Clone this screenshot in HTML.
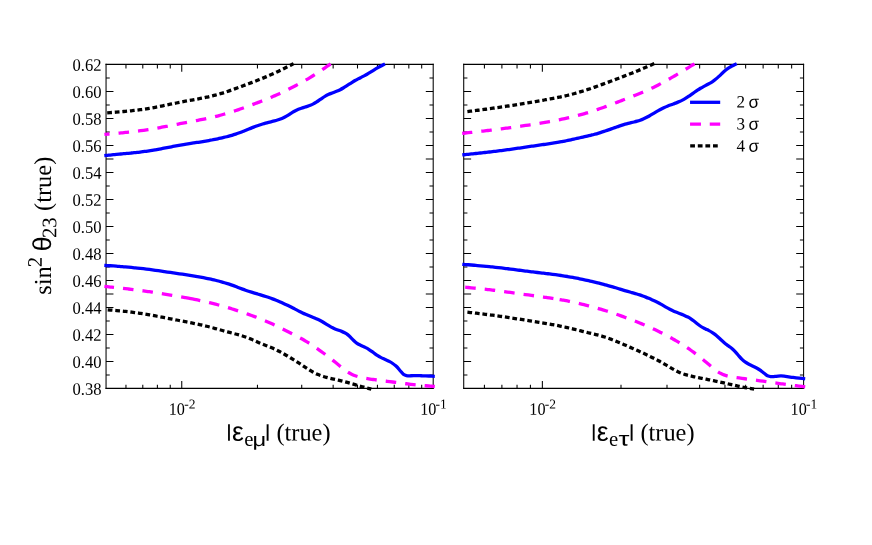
<!DOCTYPE html>
<html><head><meta charset="utf-8"><title>chart</title>
<style>html,body{margin:0;padding:0;background:#fff;}svg{display:block;will-change:transform;}text{font-family:"Liberation Serif", serif;fill:#000;text-rendering:geometricPrecision;}.g{font-family:"Liberation Sans", sans-serif;}</style>
</head><body>
<svg width="872" height="545" viewBox="0 0 872 545">
<rect x="0" y="0" width="872" height="545" fill="#ffffff"/>
<g stroke="#000" stroke-width="1.05" fill="none" stroke-linecap="butt">
<path d="M106.05 63.85V389.02M433.2 63.85V389.02"/>
<path stroke-width="1.25" d="M105.55 64.45H433.7M105.55 388.42H433.7"/>
<path d="M106.05 374.92h3.7M433.2 374.92h-3.7M106.05 361.42h7.4M433.2 361.42h-7.4M106.05 347.92h3.7M433.2 347.92h-3.7M106.05 334.43h7.4M433.2 334.43h-7.4M106.05 320.93h3.7M433.2 320.93h-3.7M106.05 307.43h7.4M433.2 307.43h-7.4M106.05 293.93h7.4M433.2 293.93h-7.4M106.05 280.43h7.4M433.2 280.43h-7.4M106.05 266.93h3.7M433.2 266.93h-3.7M106.05 253.43h7.4M433.2 253.43h-7.4M106.05 239.93h3.7M433.2 239.93h-3.7M106.05 226.44h7.4M433.2 226.44h-7.4M106.05 212.94h3.7M433.2 212.94h-3.7M106.05 199.44h7.4M433.2 199.44h-7.4M106.05 185.94h3.7M433.2 185.94h-3.7M106.05 172.44h7.4M433.2 172.44h-7.4M106.05 158.94h7.4M433.2 158.94h-7.4M106.05 145.44h7.4M433.2 145.44h-7.4M106.05 131.94h3.7M433.2 131.94h-3.7M106.05 118.44h7.4M433.2 118.44h-7.4M106.05 104.95h3.7M433.2 104.95h-3.7M106.05 91.45h7.4M433.2 91.45h-7.4M106.05 77.95h3.7M433.2 77.95h-3.7M125.96 388.42v-3.7M125.96 64.45v4.05M142.79 388.42v-3.7M142.79 64.45v4.05M157.38 388.42v-3.7M157.38 64.45v4.05M170.24 388.42v-3.7M170.24 64.45v4.05M181.75 388.42v-7.4M181.75 64.45v7.4M257.44 388.42v-3.7M257.44 64.45v4.05M301.72 388.42v-3.7M301.72 64.45v4.05M333.14 388.42v-3.7M333.14 64.45v4.05M357.5 388.42v-3.7M357.5 64.45v4.05M377.42 388.42v-3.7M377.42 64.45v4.05M394.25 388.42v-3.7M394.25 64.45v4.05M408.83 388.42v-3.7M408.83 64.45v4.05M421.69 388.42v-3.7M421.69 64.45v4.05"/>
</g>
<g stroke="#000" stroke-width="1.05" fill="none" stroke-linecap="butt">
<path d="M463.72 63.85V389.02M803.6 63.85V389.02"/>
<path stroke-width="1.25" d="M463.22 64.45H804.1M463.22 388.42H804.1"/>
<path d="M463.72 374.92h3.7M803.6 374.92h-3.7M463.72 361.42h7.4M803.6 361.42h-7.4M463.72 347.92h3.7M803.6 347.92h-3.7M463.72 334.43h7.4M803.6 334.43h-7.4M463.72 320.93h3.7M803.6 320.93h-3.7M463.72 307.43h7.4M803.6 307.43h-7.4M463.72 293.93h7.4M803.6 293.93h-7.4M463.72 280.43h7.4M803.6 280.43h-7.4M463.72 266.93h3.7M803.6 266.93h-3.7M463.72 253.43h7.4M803.6 253.43h-7.4M463.72 239.93h3.7M803.6 239.93h-3.7M463.72 226.44h7.4M803.6 226.44h-7.4M463.72 212.94h3.7M803.6 212.94h-3.7M463.72 199.44h7.4M803.6 199.44h-7.4M463.72 185.94h3.7M803.6 185.94h-3.7M463.72 172.44h7.4M803.6 172.44h-7.4M463.72 158.94h7.4M803.6 158.94h-7.4M463.72 145.44h7.4M803.6 145.44h-7.4M463.72 131.94h3.7M803.6 131.94h-3.7M463.72 118.44h7.4M803.6 118.44h-7.4M463.72 104.95h3.7M803.6 104.95h-3.7M463.72 91.45h7.4M803.6 91.45h-7.4M463.72 77.95h3.7M803.6 77.95h-3.7M484.41 388.42v-3.7M484.41 64.45v4.05M501.89 388.42v-3.7M501.89 64.45v4.05M517.04 388.42v-3.7M517.04 64.45v4.05M530.41 388.42v-3.7M530.41 64.45v4.05M542.36 388.42v-7.4M542.36 64.45v7.4M621 388.42v-3.7M621 64.45v4.05M667 388.42v-3.7M667 64.45v4.05M699.64 388.42v-3.7M699.64 64.45v4.05M724.96 388.42v-3.7M724.96 64.45v4.05M745.64 388.42v-3.7M745.64 64.45v4.05M763.13 388.42v-3.7M763.13 64.45v4.05M778.28 388.42v-3.7M778.28 64.45v4.05M791.65 388.42v-3.7M791.65 64.45v4.05"/>
</g>
<path d="M104.3 155.6C105.3 155.5 106.29 155.41 107.29 155.31C108.28 155.21 109.28 155.12 110.27 155.02C111.27 154.92 112.26 154.83 113.26 154.73C114.25 154.64 115.25 154.54 116.24 154.44C117.24 154.35 118.24 154.25 119.23 154.15C120.23 154.06 121.22 153.96 122.22 153.87C123.21 153.77 124.21 153.68 125.2 153.58C126.2 153.49 127.19 153.39 128.19 153.3C129.18 153.2 130.18 153.1 131.18 153.01C132.17 152.91 133.17 152.81 134.16 152.7C135.16 152.6 136.15 152.49 137.15 152.38C138.14 152.28 139.14 152.16 140.13 152.04C141.13 151.93 142.12 151.8 143.12 151.67C144.12 151.54 145.11 151.41 146.11 151.27C147.1 151.13 148.1 150.98 149.09 150.82C150.09 150.67 151.08 150.51 152.08 150.35C153.07 150.18 154.07 150.01 155.06 149.84C156.06 149.67 157.06 149.49 158.05 149.31C159.05 149.13 160.04 148.95 161.04 148.76C162.03 148.58 163.03 148.39 164.02 148.2C165.02 148.01 166.01 147.82 167.01 147.63C168 147.44 169 147.25 170 147.06C170.99 146.87 171.99 146.68 172.98 146.49C173.98 146.3 174.97 146.12 175.97 145.93C176.96 145.75 177.96 145.57 178.95 145.39C179.95 145.21 180.95 145.03 181.94 144.86C182.94 144.69 183.93 144.52 184.93 144.36C185.92 144.19 186.92 144.03 187.91 143.87C188.91 143.71 189.9 143.56 190.9 143.4C191.89 143.25 192.89 143.09 193.89 142.94C194.88 142.78 195.88 142.63 196.87 142.47C197.87 142.32 198.86 142.17 199.86 142.01C200.85 141.85 201.85 141.69 202.84 141.53C203.84 141.37 204.83 141.21 205.83 141.04C206.83 140.88 207.82 140.71 208.82 140.53C209.81 140.36 210.81 140.18 211.8 140C212.8 139.81 213.79 139.62 214.79 139.43C215.78 139.23 216.78 139.03 217.77 138.82C218.77 138.62 219.77 138.4 220.76 138.18C221.76 137.95 222.75 137.72 223.75 137.48C224.74 137.24 225.74 136.99 226.73 136.73C227.73 136.47 228.72 136.2 229.72 135.92C230.71 135.64 231.71 135.35 232.71 135.05C233.7 134.74 234.7 134.43 235.69 134.1C236.69 133.77 237.68 133.43 238.68 133.07C239.67 132.72 240.67 132.35 241.66 131.96C242.66 131.58 243.65 131.18 244.65 130.78C245.65 130.38 246.64 129.98 247.64 129.57C248.63 129.16 249.63 128.75 250.62 128.35C251.62 127.94 252.61 127.54 253.61 127.15C254.6 126.76 255.6 126.38 256.59 126.02C257.59 125.66 258.59 125.31 259.58 124.98C260.58 124.65 261.57 124.33 262.57 124.04C263.56 123.74 264.56 123.45 265.55 123.18C266.55 122.9 267.54 122.64 268.54 122.38C269.53 122.13 270.53 121.88 271.53 121.64C272.52 121.39 273.52 121.14 274.51 120.88C275.51 120.62 276.5 120.34 277.5 120.03C278.49 119.73 279.49 119.39 280.48 119.01C281.48 118.64 282.47 118.22 283.47 117.75C284.47 117.28 285.46 116.75 286.46 116.17C287.45 115.59 288.45 114.95 289.44 114.3C290.44 113.65 291.43 113 292.43 112.4C293.42 111.79 294.42 111.23 295.41 110.73C296.41 110.22 297.41 109.76 298.4 109.35C299.4 108.94 300.39 108.57 301.39 108.23C302.38 107.89 303.38 107.58 304.37 107.27C305.37 106.95 306.36 106.64 307.36 106.31C308.35 105.98 309.35 105.62 310.35 105.22C311.34 104.82 312.34 104.37 313.33 103.85C314.33 103.33 315.32 102.76 316.32 102.13C317.31 101.5 318.31 100.81 319.3 100.11C320.3 99.4 321.3 98.68 322.29 98.01C323.29 97.33 324.28 96.69 325.28 96.12C326.27 95.56 327.27 95.06 328.26 94.61C329.26 94.16 330.25 93.75 331.25 93.37C332.24 92.98 333.24 92.62 334.24 92.25C335.23 91.88 336.23 91.5 337.22 91.08C338.22 90.66 339.21 90.19 340.21 89.67C341.2 89.15 342.2 88.58 343.19 87.98C344.19 87.38 345.18 86.75 346.18 86.11C347.18 85.48 348.17 84.84 349.17 84.21C350.16 83.57 351.16 82.94 352.15 82.33C353.15 81.72 354.14 81.12 355.14 80.54C356.13 79.96 357.13 79.42 358.12 78.89C359.12 78.37 360.12 77.87 361.11 77.37C362.11 76.88 363.1 76.38 364.1 75.87C365.09 75.36 366.09 74.83 367.08 74.27C368.08 73.7 369.07 73.09 370.07 72.47C371.06 71.84 372.06 71.2 373.06 70.57C374.05 69.93 375.05 69.3 376.04 68.7C377.04 68.1 378.03 67.54 379.03 66.99C380.02 66.45 381.02 65.92 382.01 65.41C383.01 64.9 384 64.4 385 63.9" fill="none" stroke="#0000ff" stroke-width="3.3" stroke-linejoin="round"/>
<path d="M104.4 134.41C105.41 134.32 106.41 134.23 107.42 134.15C108.42 134.06 109.43 133.97 110.43 133.89C111.44 133.8 112.45 133.71 113.45 133.62C114.46 133.53 115.46 133.44 116.47 133.35C117.48 133.26 118.48 133.16 119.49 133.07C120.49 132.98 121.5 132.88 122.5 132.78C123.51 132.68 124.52 132.58 125.52 132.48C126.53 132.37 127.53 132.27 128.54 132.16C129.54 132.05 130.55 131.94 131.56 131.83C132.56 131.71 133.57 131.59 134.57 131.47C135.58 131.35 136.58 131.23 137.59 131.1C138.6 130.97 139.6 130.84 140.61 130.7C141.61 130.56 142.62 130.42 143.63 130.28C144.63 130.13 145.64 129.98 146.64 129.83C147.65 129.67 148.65 129.52 149.66 129.35C150.67 129.19 151.67 129.02 152.68 128.85C153.68 128.68 154.69 128.5 155.69 128.33C156.7 128.15 157.71 127.97 158.71 127.78C159.72 127.6 160.72 127.41 161.73 127.23C162.74 127.04 163.74 126.85 164.75 126.66C165.75 126.47 166.76 126.27 167.76 126.08C168.77 125.88 169.78 125.69 170.78 125.49C171.79 125.3 172.79 125.1 173.8 124.91C174.8 124.71 175.81 124.52 176.82 124.32C177.82 124.13 178.83 123.93 179.83 123.74C180.84 123.55 181.84 123.35 182.85 123.16C183.86 122.97 184.86 122.79 185.87 122.6C186.87 122.41 187.88 122.22 188.89 122.03C189.89 121.84 190.9 121.65 191.9 121.47C192.91 121.28 193.91 121.09 194.92 120.89C195.93 120.7 196.93 120.51 197.94 120.31C198.94 120.12 199.95 119.92 200.95 119.71C201.96 119.51 202.97 119.31 203.97 119.1C204.98 118.89 205.98 118.68 206.99 118.46C208 118.24 209 118.02 210.01 117.79C211.01 117.57 212.02 117.33 213.02 117.09C214.03 116.86 215.04 116.61 216.04 116.36C217.05 116.11 218.05 115.85 219.06 115.58C220.06 115.32 221.07 115.04 222.08 114.76C223.08 114.48 224.09 114.19 225.09 113.9C226.1 113.61 227.1 113.3 228.11 113C229.12 112.69 230.12 112.38 231.13 112.06C232.13 111.74 233.14 111.41 234.15 111.08C235.15 110.75 236.16 110.42 237.16 110.08C238.17 109.74 239.17 109.39 240.18 109.05C241.19 108.7 242.19 108.34 243.2 107.99C244.2 107.63 245.21 107.27 246.21 106.91C247.22 106.54 248.23 106.18 249.23 105.81C250.24 105.44 251.24 105.06 252.25 104.69C253.26 104.31 254.26 103.93 255.27 103.55C256.27 103.17 257.28 102.79 258.28 102.4C259.29 102.02 260.3 101.63 261.3 101.24C262.31 100.85 263.31 100.46 264.32 100.06C265.32 99.66 266.33 99.26 267.34 98.85C268.34 98.45 269.35 98.03 270.35 97.62C271.36 97.2 272.36 96.77 273.37 96.34C274.38 95.91 275.38 95.47 276.39 95.03C277.39 94.58 278.4 94.12 279.41 93.66C280.41 93.2 281.42 92.72 282.42 92.24C283.43 91.77 284.43 91.28 285.44 90.79C286.45 90.29 287.45 89.8 288.46 89.29C289.46 88.78 290.47 88.27 291.47 87.76C292.48 87.24 293.49 86.72 294.49 86.19C295.5 85.67 296.5 85.14 297.51 84.6C298.52 84.06 299.52 83.52 300.53 82.97C301.53 82.42 302.54 81.87 303.54 81.3C304.55 80.74 305.56 80.17 306.56 79.59C307.57 79.01 308.57 78.42 309.58 77.81C310.58 77.21 311.59 76.6 312.6 75.98C313.6 75.35 314.61 74.72 315.61 74.07C316.62 73.42 317.62 72.77 318.63 72.1C319.64 71.44 320.64 70.76 321.65 70.08C322.65 69.4 323.66 68.71 324.67 68.02C325.67 67.33 326.68 66.63 327.68 65.93C328.69 65.24 329.69 64.54 330.7 63.83" fill="none" stroke="#ff00ff" stroke-width="3.3" stroke-dasharray="10.55 9.05" stroke-dashoffset="5.4" stroke-linejoin="round"/>
<path d="M107.2 112.81C108.2 112.74 109.2 112.66 110.21 112.59C111.21 112.52 112.21 112.44 113.21 112.37C114.22 112.29 115.22 112.22 116.22 112.14C117.22 112.06 118.22 111.98 119.23 111.9C120.23 111.82 121.23 111.74 122.23 111.65C123.23 111.57 124.24 111.48 125.24 111.39C126.24 111.3 127.24 111.2 128.25 111.1C129.25 111.01 130.25 110.91 131.25 110.8C132.25 110.69 133.26 110.59 134.26 110.47C135.26 110.36 136.26 110.24 137.26 110.11C138.27 109.99 139.27 109.86 140.27 109.73C141.27 109.59 142.28 109.45 143.28 109.31C144.28 109.16 145.28 109.01 146.28 108.85C147.29 108.69 148.29 108.53 149.29 108.35C150.29 108.18 151.29 108.01 152.3 107.83C153.3 107.64 154.3 107.46 155.3 107.27C156.31 107.08 157.31 106.89 158.31 106.69C159.31 106.49 160.31 106.29 161.32 106.09C162.32 105.89 163.32 105.68 164.32 105.48C165.32 105.27 166.33 105.06 167.33 104.86C168.33 104.65 169.33 104.44 170.34 104.23C171.34 104.02 172.34 103.82 173.34 103.61C174.34 103.4 175.35 103.2 176.35 103C177.35 102.79 178.35 102.59 179.35 102.39C180.36 102.19 181.36 102 182.36 101.81C183.36 101.61 184.37 101.43 185.37 101.24C186.37 101.05 187.37 100.87 188.37 100.68C189.38 100.5 190.38 100.32 191.38 100.14C192.38 99.95 193.38 99.77 194.39 99.58C195.39 99.4 196.39 99.21 197.39 99.02C198.4 98.83 199.4 98.64 200.4 98.45C201.4 98.25 202.4 98.05 203.41 97.85C204.41 97.65 205.41 97.44 206.41 97.22C207.42 97.01 208.42 96.78 209.42 96.55C210.42 96.33 211.42 96.09 212.43 95.84C213.43 95.6 214.43 95.35 215.43 95.08C216.43 94.82 217.44 94.55 218.44 94.26C219.44 93.98 220.44 93.69 221.45 93.38C222.45 93.08 223.45 92.76 224.45 92.44C225.45 92.11 226.46 91.78 227.46 91.44C228.46 91.1 229.46 90.76 230.46 90.4C231.47 90.05 232.47 89.7 233.47 89.33C234.47 88.97 235.48 88.61 236.48 88.24C237.48 87.88 238.48 87.51 239.48 87.14C240.49 86.77 241.49 86.4 242.49 86.02C243.49 85.65 244.49 85.28 245.5 84.91C246.5 84.53 247.5 84.16 248.5 83.78C249.51 83.4 250.51 83.02 251.51 82.64C252.51 82.26 253.51 81.87 254.52 81.48C255.52 81.09 256.52 80.7 257.52 80.31C258.52 79.91 259.53 79.51 260.53 79.1C261.53 78.7 262.53 78.29 263.54 77.87C264.54 77.46 265.54 77.04 266.54 76.61C267.54 76.19 268.55 75.75 269.55 75.32C270.55 74.88 271.55 74.43 272.55 73.98C273.56 73.53 274.56 73.07 275.56 72.6C276.56 72.14 277.57 71.66 278.57 71.18C279.57 70.7 280.57 70.21 281.57 69.72C282.58 69.23 283.58 68.73 284.58 68.22C285.58 67.72 286.58 67.21 287.59 66.7C288.59 66.19 289.59 65.68 290.59 65.17C291.6 64.65 292.6 64.14 293.6 63.62" fill="none" stroke="#000000" stroke-width="3.3" stroke-dasharray="4.75 2.85" stroke-linejoin="round"/>
<path d="M104.3 265.4C105.3 265.46 106.3 265.51 107.3 265.57C108.31 265.64 109.31 265.7 110.31 265.76C111.31 265.83 112.31 265.9 113.31 265.97C114.32 266.04 115.32 266.12 116.32 266.19C117.32 266.27 118.32 266.34 119.32 266.42C120.32 266.5 121.33 266.59 122.33 266.67C123.33 266.76 124.33 266.84 125.33 266.93C126.33 267.02 127.33 267.11 128.34 267.2C129.34 267.29 130.34 267.38 131.34 267.48C132.34 267.57 133.34 267.67 134.35 267.77C135.35 267.87 136.35 267.96 137.35 268.07C138.35 268.17 139.35 268.27 140.35 268.38C141.36 268.49 142.36 268.61 143.36 268.72C144.36 268.84 145.36 268.96 146.36 269.09C147.37 269.21 148.37 269.34 149.37 269.47C150.37 269.6 151.37 269.73 152.37 269.86C153.37 270 154.38 270.13 155.38 270.27C156.38 270.41 157.38 270.55 158.38 270.7C159.38 270.84 160.38 270.98 161.39 271.13C162.39 271.27 163.39 271.42 164.39 271.57C165.39 271.71 166.39 271.86 167.4 272.01C168.4 272.16 169.4 272.31 170.4 272.46C171.4 272.6 172.4 272.75 173.4 272.9C174.41 273.05 175.41 273.2 176.41 273.34C177.41 273.49 178.41 273.64 179.41 273.79C180.42 273.93 181.42 274.08 182.42 274.23C183.42 274.38 184.42 274.53 185.42 274.68C186.42 274.83 187.43 274.99 188.43 275.14C189.43 275.3 190.43 275.45 191.43 275.61C192.43 275.77 193.43 275.93 194.44 276.1C195.44 276.26 196.44 276.43 197.44 276.6C198.44 276.77 199.44 276.95 200.45 277.13C201.45 277.31 202.45 277.49 203.45 277.68C204.45 277.87 205.45 278.06 206.45 278.26C207.46 278.45 208.46 278.66 209.46 278.87C210.46 279.07 211.46 279.29 212.46 279.52C213.47 279.75 214.47 279.99 215.47 280.24C216.47 280.49 217.47 280.74 218.47 281.01C219.47 281.28 220.48 281.56 221.48 281.84C222.48 282.12 223.48 282.41 224.48 282.71C225.48 283.01 226.48 283.31 227.49 283.62C228.49 283.93 229.49 284.24 230.49 284.58C231.49 284.93 232.49 285.29 233.5 285.66C234.5 286.04 235.5 286.43 236.5 286.82C237.5 287.21 238.5 287.61 239.5 288C240.51 288.39 241.51 288.78 242.51 289.16C243.51 289.54 244.51 289.91 245.51 290.26C246.52 290.61 247.52 290.94 248.52 291.26C249.52 291.57 250.52 291.88 251.52 292.18C252.52 292.48 253.53 292.77 254.53 293.07C255.53 293.36 256.53 293.66 257.53 293.96C258.53 294.26 259.53 294.58 260.54 294.89C261.54 295.21 262.54 295.52 263.54 295.84C264.54 296.15 265.54 296.47 266.55 296.79C267.55 297.12 268.55 297.45 269.55 297.8C270.55 298.14 271.55 298.5 272.55 298.88C273.56 299.26 274.56 299.65 275.56 300.05C276.56 300.45 277.56 300.87 278.56 301.29C279.57 301.72 280.57 302.15 281.57 302.6C282.57 303.04 283.57 303.49 284.57 303.94C285.57 304.4 286.58 304.85 287.58 305.32C288.58 305.79 289.58 306.28 290.58 306.79C291.58 307.29 292.58 307.81 293.59 308.33C294.59 308.85 295.59 309.38 296.59 309.9C297.59 310.42 298.59 310.94 299.6 311.44C300.6 311.94 301.6 312.43 302.6 312.89C303.6 313.36 304.6 313.8 305.6 314.23C306.61 314.66 307.61 315.08 308.61 315.49C309.61 315.9 310.61 316.31 311.61 316.72C312.62 317.13 313.62 317.54 314.62 317.97C315.62 318.4 316.62 318.84 317.62 319.31C318.62 319.77 319.63 320.25 320.63 320.77C321.63 321.3 322.63 321.88 323.63 322.48C324.63 323.09 325.63 323.71 326.64 324.34C327.64 324.96 328.64 325.58 329.64 326.17C330.64 326.76 331.64 327.32 332.65 327.82C333.65 328.33 334.65 328.76 335.65 329.16C336.65 329.55 337.65 329.92 338.65 330.28C339.66 330.64 340.66 331 341.66 331.39C342.66 331.79 343.66 332.22 344.66 332.73C345.67 333.23 346.67 333.79 347.67 334.59C348.67 335.39 349.67 336.37 350.67 337.4C351.67 338.43 352.68 339.5 353.68 340.49C354.68 341.48 355.68 342.39 356.68 343.09C357.68 343.78 358.68 344.32 359.69 344.83C360.69 345.34 361.69 345.8 362.69 346.24C363.69 346.69 364.69 347.14 365.7 347.63C366.7 348.12 367.7 348.66 368.7 349.28C369.7 349.91 370.7 350.61 371.7 351.34C372.71 352.07 373.71 352.83 374.71 353.57C375.71 354.3 376.71 355.02 377.71 355.67C378.72 356.32 379.72 356.88 380.72 357.4C381.72 357.91 382.72 358.38 383.72 358.83C384.72 359.29 385.73 359.73 386.73 360.19C387.73 360.65 388.73 361.13 389.73 361.67C390.73 362.21 391.73 362.8 392.74 363.49C393.74 364.18 394.74 364.97 395.74 365.85C396.74 366.73 397.74 367.72 398.75 368.95C399.75 370.19 400.75 371.4 401.75 372.46C402.75 373.52 403.75 374.6 404.75 375C405.76 375.4 406.76 375.75 407.76 375.79C408.76 375.84 409.76 375.79 410.76 375.77C411.77 375.76 412.77 375.73 413.77 375.72C414.77 375.7 415.77 375.7 416.77 375.7C417.77 375.7 418.78 375.71 419.78 375.72C420.78 375.74 421.78 375.76 422.78 375.78C423.78 375.8 424.78 375.83 425.79 375.86C426.79 375.9 427.79 375.94 428.79 375.98C429.79 376.02 430.79 376.07 431.8 376.13C432.8 376.18 433.8 376.24 434.8 376.3" fill="none" stroke="#0000ff" stroke-width="3.3" stroke-linejoin="round"/>
<path d="M104.4 286.4C105.4 286.5 106.4 286.61 107.4 286.71C108.4 286.82 109.41 286.92 110.41 287.02C111.41 287.13 112.41 287.23 113.41 287.34C114.41 287.45 115.41 287.55 116.41 287.66C117.42 287.77 118.42 287.87 119.42 287.98C120.42 288.09 121.42 288.2 122.42 288.31C123.42 288.42 124.42 288.54 125.43 288.65C126.43 288.76 127.43 288.88 128.43 289C129.43 289.11 130.43 289.23 131.43 289.35C132.43 289.47 133.44 289.59 134.44 289.72C135.44 289.84 136.44 289.97 137.44 290.1C138.44 290.23 139.44 290.36 140.44 290.49C141.44 290.62 142.45 290.75 143.45 290.89C144.45 291.03 145.45 291.17 146.45 291.31C147.45 291.45 148.45 291.59 149.45 291.73C150.46 291.88 151.46 292.02 152.46 292.17C153.46 292.32 154.46 292.47 155.46 292.62C156.46 292.77 157.46 292.92 158.47 293.08C159.47 293.23 160.47 293.39 161.47 293.55C162.47 293.71 163.47 293.87 164.47 294.03C165.47 294.19 166.48 294.35 167.48 294.51C168.48 294.68 169.48 294.84 170.48 295.01C171.48 295.17 172.48 295.34 173.48 295.51C174.48 295.68 175.49 295.85 176.49 296.02C177.49 296.19 178.49 296.37 179.49 296.54C180.49 296.72 181.49 296.89 182.49 297.07C183.5 297.25 184.5 297.43 185.5 297.62C186.5 297.8 187.5 297.99 188.5 298.18C189.27 298.32 190.03 298.47 190.8 298.62M190.8 298.62C192.04 298.86 193.27 299.1 194.51 299.35C195.51 299.55 196.51 299.76 197.51 299.96C198.51 300.17 199.52 300.38 200.52 300.6C201.52 300.82 202.52 301.04 203.52 301.26C204.52 301.49 205.52 301.72 206.52 301.95C207.52 302.18 208.53 302.42 209.53 302.66C210.53 302.91 211.53 303.16 212.53 303.41C213.53 303.66 214.53 303.92 215.53 304.18C216.54 304.44 217.54 304.71 218.54 304.98C219.54 305.25 220.54 305.53 221.54 305.81C222.54 306.09 223.54 306.38 224.55 306.67C225.55 306.95 226.55 307.25 227.55 307.54C228.55 307.84 229.55 308.14 230.55 308.45C231.55 308.75 232.56 309.06 233.56 309.37C234.56 309.69 235.56 310 236.56 310.32C237.56 310.65 238.56 310.97 239.56 311.3C240.56 311.63 241.57 311.96 242.57 312.3C243.57 312.64 244.57 312.98 245.57 313.33C246.57 313.68 247.57 314.03 248.57 314.38C249.58 314.74 250.58 315.1 251.58 315.47C252.58 315.83 253.58 316.2 254.58 316.58C255.58 316.95 256.58 317.33 257.59 317.72C258.59 318.11 259.59 318.5 260.59 318.91C261.59 319.31 262.59 319.71 263.59 320.13C264.59 320.55 265.6 320.97 266.6 321.4C267.6 321.83 268.6 322.27 269.6 322.72C270.6 323.17 271.6 323.63 272.6 324.1C273.6 324.57 274.61 325.05 275.61 325.53C276.61 326.01 277.61 326.5 278.61 327C279.61 327.49 280.61 327.99 281.61 328.5C282.62 329 283.62 329.5 284.62 330C285.62 330.51 286.62 331.01 287.62 331.51C288.62 332.01 289.62 332.51 290.63 333.01C291.63 333.52 292.63 334.02 293.63 334.53C294.63 335.03 295.63 335.55 296.63 336.07C297.63 336.59 298.64 337.12 299.64 337.66C300.64 338.2 301.64 338.75 302.64 339.31C303.64 339.88 304.64 340.46 305.64 341.06C306.64 341.65 307.65 342.27 308.65 342.89C309.65 343.52 310.65 344.16 311.65 344.82C312.65 345.47 313.65 346.14 314.65 346.82C315.66 347.5 316.66 348.2 317.66 348.9C318.66 349.6 319.66 350.32 320.66 351.04C321.66 351.76 322.66 352.5 323.67 353.24C324.67 353.98 325.67 354.73 326.67 355.49C327.67 356.25 328.67 357.02 329.67 357.79C330.67 358.57 331.68 359.36 332.68 360.15C333.68 360.94 334.68 361.75 335.68 362.56C336.68 363.37 337.68 364.19 338.68 365.01C339.68 365.83 340.69 366.65 341.69 367.45C342.69 368.26 343.69 369.04 344.69 369.79C345.69 370.55 346.69 371.26 347.69 371.92C348.7 372.58 349.7 373.19 350.7 373.73C351.7 374.27 352.7 374.73 353.7 375.15C354.7 375.56 355.7 375.92 356.71 376.23C357.71 376.55 358.71 376.82 359.71 377.07C360.71 377.31 361.71 377.53 362.71 377.73C363.71 377.93 364.72 378.12 365.72 378.31C366.72 378.49 367.72 378.66 368.72 378.82C369.72 378.99 370.72 379.14 371.72 379.29C372.72 379.44 373.73 379.59 374.73 379.73C375.73 379.87 376.73 380 377.73 380.13C378.73 380.26 379.73 380.39 380.73 380.51C381.74 380.63 382.74 380.76 383.74 380.88C384.74 381 385.74 381.12 386.74 381.24C387.74 381.37 388.74 381.49 389.75 381.61C390.75 381.74 391.75 381.87 392.75 382C393.75 382.13 394.75 382.26 395.75 382.39C396.75 382.52 397.76 382.65 398.76 382.78C399.76 382.92 400.76 383.05 401.76 383.18C402.76 383.31 403.76 383.44 404.76 383.56C405.76 383.69 406.77 383.82 407.77 383.94C408.77 384.06 409.77 384.18 410.77 384.29C411.77 384.41 412.77 384.52 413.77 384.63C414.78 384.73 415.78 384.84 416.78 384.94C417.78 385.04 418.78 385.13 419.78 385.23C420.78 385.32 421.78 385.41 422.79 385.5C423.79 385.59 424.79 385.68 425.79 385.76C426.79 385.85 427.79 385.93 428.79 386.01C429.79 386.1 430.8 386.18 431.8 386.26C432.8 386.34 433.8 386.42 434.8 386.5" fill="none" stroke="#ff00ff" stroke-width="3.3" stroke-dasharray="10.55 9.05" stroke-dashoffset="0.9" stroke-linejoin="round"/>
<path d="M107.7 309.8C108.7 309.88 109.7 309.97 110.7 310.06C111.69 310.14 112.69 310.23 113.69 310.32C114.69 310.41 115.69 310.5 116.69 310.59C117.68 310.68 118.68 310.77 119.68 310.87C120.68 310.96 121.68 311.06 122.68 311.16C123.68 311.26 124.67 311.36 125.67 311.47C126.67 311.58 127.67 311.69 128.67 311.8C129.67 311.91 130.67 312.03 131.66 312.15C132.66 312.28 133.66 312.4 134.66 312.53C135.66 312.67 136.66 312.8 137.65 312.94C138.65 313.09 139.65 313.23 140.65 313.39C141.65 313.54 142.65 313.7 143.65 313.86C144.64 314.02 145.64 314.18 146.64 314.35C147.64 314.52 148.64 314.69 149.64 314.87C150.63 315.05 151.63 315.23 152.63 315.41C153.63 315.59 154.63 315.77 155.63 315.96C156.63 316.15 157.62 316.34 158.62 316.53C159.62 316.72 160.62 316.91 161.62 317.1C162.62 317.29 163.62 317.49 164.61 317.68C165.61 317.87 166.61 318.07 167.61 318.26C168.61 318.46 169.61 318.65 170.6 318.85C171.6 319.04 172.6 319.24 173.6 319.43C174.6 319.62 175.6 319.81 176.6 320C177.59 320.19 178.59 320.39 179.59 320.58C180.59 320.77 181.59 320.96 182.59 321.15C183.58 321.34 184.58 321.54 185.58 321.73C186.58 321.92 187.58 322.12 188.58 322.32C189.58 322.51 190.57 322.71 191.57 322.92C192.57 323.12 193.57 323.32 194.57 323.53C195.57 323.74 196.57 323.95 197.56 324.17C198.56 324.38 199.56 324.6 200.56 324.83C201.56 325.05 202.56 325.28 203.55 325.51C204.55 325.75 205.55 325.98 206.55 326.23C207.55 326.47 208.55 326.72 209.55 326.98C210.54 327.24 211.54 327.5 212.54 327.77C213.54 328.03 214.54 328.31 215.54 328.58C216.53 328.86 217.53 329.14 218.53 329.42C219.53 329.7 220.53 329.98 221.53 330.26C222.53 330.54 223.52 330.82 224.52 331.09C225.52 331.37 226.52 331.64 227.52 331.91C228.52 332.18 229.52 332.44 230.51 332.7C231.51 332.96 232.51 333.22 233.51 333.47C234.51 333.73 235.51 334 236.5 334.26C237.5 334.53 238.5 334.8 239.5 335.09C240.5 335.37 241.5 335.67 242.5 335.98C243.49 336.29 244.49 336.62 245.49 336.96C246.49 337.31 247.49 337.68 248.49 338.06C249.48 338.45 250.48 338.87 251.48 339.31C252.48 339.74 253.48 340.2 254.48 340.66C255.48 341.12 256.47 341.58 257.47 342.03C258.47 342.48 259.47 342.92 260.47 343.33C261.47 343.75 262.47 344.14 263.46 344.53C264.46 344.92 265.46 345.3 266.46 345.68C267.46 346.07 268.46 346.45 269.45 346.85C270.45 347.25 271.45 347.67 272.45 348.1C273.45 348.54 274.45 349 275.45 349.48C276.44 349.96 277.44 350.46 278.44 350.97C279.44 351.48 280.44 352.02 281.44 352.56C282.43 353.11 283.43 353.66 284.43 354.23C285.43 354.8 286.43 355.39 287.43 355.98C288.43 356.57 289.42 357.16 290.42 357.77C291.42 358.38 292.42 358.99 293.42 359.61C294.42 360.24 295.42 360.87 296.41 361.5C297.41 362.14 298.41 362.78 299.41 363.43C300.41 364.08 301.41 364.74 302.4 365.4C303.4 366.06 304.4 366.73 305.4 367.39C306.4 368.05 307.4 368.71 308.4 369.34C309.39 369.98 310.39 370.6 311.39 371.19C312.39 371.78 313.39 372.34 314.39 372.85C315.38 373.37 316.38 373.84 317.38 374.28C318.38 374.71 319.38 375.1 320.38 375.46C321.38 375.82 322.37 376.15 323.37 376.46C324.37 376.76 325.37 377.05 326.37 377.32C327.37 377.59 328.37 377.85 329.36 378.1C330.36 378.34 331.36 378.58 332.36 378.81C333.36 379.04 334.36 379.27 335.35 379.49C336.35 379.72 337.35 379.94 338.35 380.17C339.35 380.4 340.35 380.64 341.35 380.88C342.34 381.13 343.34 381.38 344.34 381.65C345.34 381.91 346.34 382.18 347.34 382.46C348.33 382.74 349.33 383.02 350.33 383.31C351.33 383.6 352.33 383.89 353.33 384.18C354.33 384.47 355.32 384.76 356.32 385.04C357.32 385.33 358.32 385.62 359.32 385.9C360.32 386.18 361.32 386.45 362.31 386.73C363.31 387 364.31 387.26 365.31 387.53C366.31 387.8 367.31 388.06 368.3 388.32C369.3 388.58 370.3 388.84 371.3 389.1" fill="none" stroke="#000000" stroke-width="3.3" stroke-dasharray="4.75 2.85" stroke-linejoin="round"/>
<path d="M462.3 154.9C463.31 154.8 464.31 154.69 465.32 154.59C466.32 154.49 467.33 154.38 468.33 154.28C469.34 154.18 470.34 154.07 471.35 153.97C472.35 153.86 473.36 153.76 474.36 153.65C475.37 153.55 476.37 153.44 477.38 153.33C478.38 153.22 479.39 153.12 480.39 153.01C481.4 152.9 482.4 152.79 483.41 152.68C484.41 152.57 485.42 152.45 486.42 152.34C487.43 152.23 488.43 152.11 489.44 152C490.44 151.88 491.45 151.76 492.45 151.64C493.46 151.52 494.46 151.4 495.47 151.28C496.47 151.16 497.48 151.03 498.48 150.91C499.49 150.78 500.49 150.65 501.5 150.52C502.51 150.39 503.51 150.26 504.52 150.12C505.52 149.99 506.53 149.85 507.53 149.72C508.54 149.58 509.54 149.44 510.55 149.3C511.55 149.16 512.56 149.02 513.56 148.88C514.57 148.73 515.57 148.59 516.58 148.44C517.58 148.3 518.59 148.15 519.59 148.01C520.6 147.86 521.6 147.72 522.61 147.57C523.61 147.42 524.62 147.27 525.62 147.13C526.63 146.98 527.63 146.83 528.64 146.68C529.64 146.54 530.65 146.39 531.65 146.24C532.66 146.09 533.66 145.95 534.67 145.8C535.67 145.65 536.68 145.51 537.68 145.36C538.69 145.22 539.69 145.07 540.7 144.93C541.71 144.79 542.71 144.64 543.72 144.5C544.72 144.36 545.73 144.22 546.73 144.08C547.74 143.94 548.74 143.79 549.75 143.65C550.75 143.5 551.76 143.35 552.76 143.2C553.77 143.04 554.77 142.89 555.78 142.72C556.78 142.56 557.79 142.39 558.79 142.21C559.8 142.04 560.8 141.85 561.81 141.66C562.81 141.46 563.82 141.26 564.82 141.06C565.83 140.85 566.83 140.64 567.84 140.43C568.84 140.21 569.85 139.99 570.85 139.77C571.86 139.55 572.86 139.32 573.87 139.1C574.87 138.87 575.88 138.65 576.88 138.42C577.89 138.2 578.89 137.97 579.9 137.75C580.91 137.53 581.91 137.3 582.92 137.08C583.92 136.86 584.93 136.63 585.93 136.4C586.94 136.17 587.94 135.94 588.95 135.7C589.95 135.46 590.96 135.21 591.96 134.96C592.97 134.71 593.97 134.44 594.98 134.17C595.98 133.9 596.99 133.62 597.99 133.32C599 133.03 600 132.73 601.01 132.41C602.01 132.1 603.02 131.77 604.02 131.44C605.03 131.11 606.03 130.77 607.04 130.43C608.04 130.08 609.05 129.73 610.05 129.38C611.06 129.02 612.06 128.66 613.07 128.29C614.07 127.93 615.08 127.56 616.08 127.19C617.09 126.82 618.09 126.45 619.1 126.1C620.11 125.74 621.11 125.4 622.12 125.07C623.12 124.75 624.13 124.44 625.13 124.17C626.14 123.89 627.14 123.64 628.15 123.4C629.15 123.16 630.16 122.92 631.16 122.69C632.17 122.46 633.17 122.23 634.18 121.98C635.18 121.73 636.19 121.47 637.19 121.18C638.2 120.89 639.2 120.58 640.21 120.22C641.21 119.87 642.22 119.48 643.22 119.03C644.23 118.59 645.23 118.11 646.24 117.59C647.24 117.07 648.25 116.52 649.25 115.95C650.26 115.39 651.26 114.8 652.27 114.2C653.27 113.61 654.28 113.01 655.28 112.41C656.29 111.81 657.29 111.22 658.3 110.64C659.31 110.06 660.31 109.5 661.32 108.97C662.32 108.44 663.33 107.94 664.33 107.47C665.34 107.01 666.34 106.59 667.35 106.19C668.35 105.79 669.36 105.41 670.36 105.05C671.37 104.68 672.37 104.33 673.38 103.97C674.38 103.6 675.39 103.24 676.39 102.85C677.4 102.46 678.4 102.05 679.41 101.61C680.41 101.16 681.42 100.68 682.42 100.15C683.43 99.62 684.43 99.04 685.44 98.42C686.44 97.8 687.45 97.15 688.45 96.47C689.46 95.79 690.46 95.09 691.47 94.39C692.47 93.68 693.48 92.97 694.48 92.27C695.49 91.56 696.49 90.87 697.5 90.2C698.51 89.53 699.51 88.89 700.52 88.28C701.52 87.68 702.53 87.12 703.53 86.58C704.54 86.04 705.54 85.51 706.55 84.98C707.55 84.45 708.56 83.92 709.56 83.35C710.57 82.78 711.57 82.17 712.58 81.51C713.58 80.84 714.59 80.12 715.59 79.31C716.6 78.49 717.6 77.6 718.61 76.66C719.61 75.73 720.62 74.76 721.62 73.8C722.63 72.85 723.63 71.9 724.64 71.02C725.64 70.14 726.65 69.34 727.65 68.63C728.66 67.92 729.66 67.29 730.67 66.73C731.67 66.16 732.68 65.65 733.68 65.17C734.69 64.69 735.69 64.24 736.7 63.79" fill="none" stroke="#0000ff" stroke-width="3.3" stroke-linejoin="round"/>
<path d="M462.2 133.4C463.21 133.29 464.21 133.18 465.22 133.07C466.22 132.95 467.23 132.84 468.23 132.73C469.24 132.62 470.25 132.51 471.25 132.39C472.26 132.28 473.26 132.17 474.27 132.06C475.27 131.94 476.28 131.83 477.28 131.71C478.29 131.6 479.3 131.49 480.3 131.37C481.31 131.26 482.31 131.14 483.32 131.02C484.32 130.91 485.33 130.79 486.34 130.67C487.34 130.55 488.35 130.43 489.35 130.31C490.36 130.19 491.36 130.07 492.37 129.95C493.37 129.83 494.38 129.71 495.39 129.59C496.39 129.46 497.4 129.34 498.4 129.21C499.41 129.08 500.41 128.96 501.42 128.83C502.43 128.7 503.43 128.57 504.44 128.44C505.44 128.31 506.45 128.18 507.45 128.04C508.46 127.91 509.46 127.78 510.47 127.64C511.48 127.5 512.48 127.36 513.49 127.23C514.49 127.09 515.5 126.95 516.5 126.8C517.51 126.66 518.52 126.52 519.52 126.37C520.53 126.23 521.53 126.08 522.54 125.93C523.54 125.79 524.55 125.64 525.55 125.49C526.56 125.34 527.57 125.18 528.57 125.03C529.58 124.87 530.58 124.72 531.59 124.56C532.59 124.4 533.6 124.25 534.61 124.09C535.61 123.92 536.62 123.76 537.62 123.6C538.63 123.44 539.63 123.27 540.64 123.1C541.64 122.94 542.65 122.77 543.66 122.6C544.66 122.42 545.67 122.25 546.67 122.08C547.68 121.9 548.68 121.72 549.69 121.54C550.7 121.36 551.7 121.18 552.71 121C553.71 120.81 554.72 120.62 555.72 120.43C556.73 120.24 557.73 120.04 558.74 119.84C559.75 119.64 560.75 119.44 561.76 119.23C562.76 119.02 563.77 118.81 564.77 118.59C565.78 118.37 566.79 118.15 567.79 117.92C568.8 117.69 569.8 117.46 570.81 117.22C571.81 116.98 572.82 116.74 573.82 116.49C574.83 116.24 575.84 115.98 576.84 115.72C577.85 115.46 578.85 115.19 579.86 114.92C580.86 114.64 581.87 114.36 582.88 114.08C583.88 113.79 584.89 113.5 585.89 113.2C586.9 112.9 587.9 112.6 588.91 112.29C589.91 111.98 590.92 111.66 591.93 111.34C592.93 111.02 593.94 110.69 594.94 110.36C595.95 110.03 596.95 109.69 597.96 109.34C598.97 109 599.97 108.65 600.98 108.29C601.98 107.94 602.99 107.58 603.99 107.21C605 106.84 606 106.47 607.01 106.1C608.02 105.72 609.02 105.35 610.03 104.97C611.03 104.59 612.04 104.21 613.04 103.82C614.05 103.44 615.06 103.05 616.06 102.67C617.07 102.28 618.07 101.9 619.08 101.51C620.08 101.12 621.09 100.74 622.09 100.35C623.1 99.97 624.11 99.58 625.11 99.19C626.12 98.8 627.12 98.41 628.13 98.02C629.13 97.63 630.14 97.24 631.15 96.84C632.15 96.45 633.16 96.05 634.16 95.65C635.17 95.25 636.17 94.84 637.18 94.43C638.18 94.03 639.19 93.61 640.2 93.2C641.2 92.78 642.21 92.36 643.21 91.93C644.22 91.5 645.22 91.07 646.23 90.63C647.24 90.19 648.24 89.74 649.25 89.28C650.25 88.83 651.26 88.36 652.26 87.89C653.27 87.41 654.27 86.93 655.28 86.43C656.29 85.94 657.29 85.44 658.3 84.92C659.3 84.41 660.31 83.89 661.31 83.35C662.32 82.82 663.33 82.28 664.33 81.73C665.34 81.19 666.34 80.63 667.35 80.07C668.35 79.51 669.36 78.94 670.36 78.36C671.37 77.79 672.38 77.21 673.38 76.62C674.39 76.03 675.39 75.44 676.4 74.85C677.4 74.25 678.41 73.65 679.42 73.05C680.42 72.44 681.43 71.84 682.43 71.23C683.44 70.62 684.44 70 685.45 69.39C686.45 68.77 687.46 68.16 688.47 67.54C689.47 66.92 690.48 66.3 691.48 65.68C692.49 65.06 693.49 64.43 694.5 63.81" fill="none" stroke="#ff00ff" stroke-width="3.3" stroke-dasharray="10.55 9.05" stroke-dashoffset="0.4" stroke-linejoin="round"/>
<path d="M467.4 111.6C468.4 111.47 469.41 111.34 470.41 111.21C471.42 111.08 472.42 110.95 473.43 110.82C474.43 110.69 475.44 110.56 476.44 110.43C477.45 110.3 478.45 110.17 479.46 110.03C480.46 109.9 481.47 109.77 482.47 109.64C483.48 109.5 484.48 109.37 485.49 109.24C486.49 109.1 487.5 108.96 488.5 108.83C489.51 108.69 490.51 108.55 491.52 108.42C492.52 108.28 493.53 108.14 494.53 108C495.54 107.86 496.54 107.71 497.55 107.57C498.55 107.43 499.55 107.28 500.56 107.14C501.56 106.99 502.57 106.84 503.57 106.69C504.58 106.55 505.58 106.39 506.59 106.24C507.59 106.09 508.6 105.94 509.6 105.78C510.61 105.63 511.61 105.47 512.62 105.31C513.62 105.16 514.63 105 515.63 104.84C516.64 104.68 517.64 104.52 518.65 104.36C519.65 104.19 520.66 104.03 521.66 103.87C522.67 103.7 523.67 103.54 524.68 103.37C525.68 103.2 526.69 103.04 527.69 102.87C528.7 102.7 529.7 102.53 530.7 102.36C531.71 102.19 532.71 102.02 533.72 101.84C534.72 101.67 535.73 101.5 536.73 101.32C537.74 101.15 538.74 100.97 539.75 100.8C540.75 100.62 541.76 100.45 542.76 100.27C543.77 100.09 544.77 99.91 545.78 99.73C546.78 99.55 547.79 99.37 548.79 99.19C549.8 99.01 550.8 98.82 551.81 98.63C552.81 98.44 553.82 98.25 554.82 98.06C555.83 97.86 556.83 97.66 557.84 97.46C558.84 97.25 559.85 97.05 560.85 96.83C561.85 96.62 562.86 96.4 563.86 96.18C564.87 95.95 565.87 95.72 566.88 95.49C567.88 95.25 568.89 95.01 569.89 94.76C570.9 94.5 571.9 94.25 572.91 93.98C573.91 93.71 574.92 93.44 575.92 93.16C576.93 92.88 577.93 92.59 578.94 92.29C579.94 91.99 580.95 91.69 581.95 91.37C582.96 91.06 583.96 90.75 584.97 90.42C585.97 90.1 586.98 89.77 587.98 89.43C588.99 89.1 589.99 88.76 591 88.41C592 88.07 593 87.72 594.01 87.37C595.01 87.01 596.02 86.66 597.02 86.3C598.03 85.94 599.03 85.57 600.04 85.21C601.04 84.84 602.05 84.47 603.05 84.1C604.06 83.73 605.06 83.36 606.07 82.99C607.07 82.61 608.08 82.24 609.08 81.86C610.09 81.48 611.09 81.11 612.1 80.73C613.1 80.35 614.11 79.97 615.11 79.59C616.12 79.21 617.12 78.82 618.13 78.44C619.13 78.06 620.14 77.68 621.14 77.3C622.15 76.91 623.15 76.53 624.15 76.15C625.16 75.76 626.16 75.37 627.17 74.98C628.17 74.6 629.18 74.2 630.18 73.81C631.19 73.41 632.19 73.01 633.2 72.61C634.2 72.21 635.21 71.8 636.21 71.39C637.22 70.98 638.22 70.56 639.23 70.14C640.23 69.72 641.24 69.3 642.24 68.87C643.25 68.44 644.25 68.01 645.26 67.57C646.26 67.14 647.27 66.7 648.27 66.26C649.28 65.82 650.28 65.38 651.29 64.94C652.29 64.5 653.3 64.06 654.3 63.61" fill="none" stroke="#000000" stroke-width="3.3" stroke-dasharray="4.7310 2.8386" stroke-linejoin="round"/>
<path d="M462.3 264.3C463.3 264.37 464.31 264.45 465.31 264.53C466.31 264.6 467.31 264.68 468.32 264.76C469.32 264.84 470.32 264.92 471.32 265.01C472.33 265.09 473.33 265.17 474.33 265.26C475.33 265.35 476.34 265.43 477.34 265.52C478.34 265.61 479.34 265.7 480.35 265.8C481.35 265.89 482.35 265.98 483.36 266.08C484.36 266.17 485.36 266.27 486.36 266.37C487.37 266.46 488.37 266.56 489.37 266.66C490.37 266.76 491.38 266.87 492.38 266.97C493.38 267.07 494.38 267.18 495.39 267.29C496.39 267.4 497.39 267.51 498.39 267.63C499.4 267.74 500.4 267.86 501.4 267.98C502.41 268.1 503.41 268.22 504.41 268.34C505.41 268.46 506.42 268.59 507.42 268.71C508.42 268.84 509.42 268.96 510.43 269.09C511.43 269.22 512.43 269.35 513.43 269.48C514.44 269.61 515.44 269.74 516.44 269.87C517.44 270 518.45 270.13 519.45 270.26C520.45 270.38 521.46 270.51 522.46 270.64C523.46 270.77 524.46 270.9 525.47 271.03C526.47 271.16 527.47 271.28 528.47 271.41C529.48 271.53 530.48 271.66 531.48 271.78C532.48 271.9 533.49 272.02 534.49 272.14C535.49 272.26 536.49 272.38 537.5 272.5C538.5 272.62 539.5 272.74 540.51 272.86C541.51 272.98 542.51 273.09 543.51 273.21C544.52 273.33 545.52 273.45 546.52 273.58C547.52 273.7 548.53 273.82 549.53 273.94C550.53 274.07 551.53 274.2 552.54 274.32C553.54 274.45 554.54 274.58 555.54 274.72C556.55 274.85 557.55 274.99 558.55 275.13C559.56 275.27 560.56 275.41 561.56 275.56C562.56 275.71 563.57 275.86 564.57 276.02C565.57 276.17 566.57 276.33 567.58 276.5C568.58 276.67 569.58 276.84 570.58 277.02C571.59 277.2 572.59 277.38 573.59 277.57C574.59 277.76 575.6 277.96 576.6 278.15C577.6 278.35 578.61 278.55 579.61 278.76C580.61 278.96 581.61 279.17 582.62 279.39C583.62 279.6 584.62 279.81 585.62 280.03C586.63 280.25 587.63 280.47 588.63 280.69C589.63 280.92 590.64 281.14 591.64 281.37C592.64 281.6 593.64 281.84 594.65 282.08C595.65 282.32 596.65 282.57 597.66 282.82C598.66 283.08 599.66 283.33 600.66 283.59C601.67 283.85 602.67 284.12 603.67 284.39C604.67 284.66 605.68 284.93 606.68 285.2C607.68 285.48 608.68 285.75 609.69 286.04C610.69 286.32 611.69 286.6 612.69 286.88C613.7 287.17 614.7 287.47 615.7 287.78C616.71 288.09 617.71 288.4 618.71 288.72C619.71 289.04 620.72 289.36 621.72 289.67C622.72 289.98 623.72 290.29 624.73 290.59C625.73 290.88 626.73 291.17 627.73 291.45C628.74 291.73 629.74 292 630.74 292.27C631.74 292.55 632.75 292.82 633.75 293.11C634.75 293.39 635.76 293.68 636.76 293.98C637.76 294.28 638.76 294.59 639.77 294.92C640.77 295.25 641.77 295.6 642.77 295.96C643.78 296.33 644.78 296.71 645.78 297.11C646.78 297.51 647.79 297.92 648.79 298.34C649.79 298.77 650.79 299.2 651.8 299.65C652.8 300.1 653.8 300.56 654.81 301.02C655.81 301.49 656.81 301.98 657.81 302.5C658.82 303.02 659.82 303.57 660.82 304.14C661.82 304.7 662.83 305.28 663.83 305.86C664.83 306.45 665.83 307.03 666.84 307.6C667.84 308.17 668.84 308.72 669.84 309.26C670.85 309.79 671.85 310.29 672.85 310.76C673.86 311.23 674.86 311.66 675.86 312.07C676.86 312.48 677.87 312.87 678.87 313.25C679.87 313.64 680.87 314.02 681.88 314.41C682.88 314.8 683.88 315.21 684.88 315.65C685.89 316.08 686.89 316.55 687.89 317.06C688.89 317.57 689.9 318.13 690.9 318.81C691.9 319.48 692.91 320.25 693.91 321.04C694.91 321.84 695.91 322.66 696.92 323.47C697.92 324.27 698.92 325.05 699.92 325.75C700.93 326.46 701.93 327.06 702.93 327.62C703.93 328.17 704.94 328.67 705.94 329.17C706.94 329.66 707.94 330.14 708.95 330.65C709.95 331.17 710.95 331.7 711.96 332.31C712.96 332.92 713.96 333.6 714.96 334.39C715.97 335.17 716.97 336.05 717.97 336.96C718.97 337.88 719.98 338.83 720.98 339.76C721.98 340.7 722.98 341.63 723.99 342.49C724.99 343.35 725.99 344.13 726.99 344.86C728 345.6 729 346.29 730 347.03C731.01 347.76 732.01 348.53 733.01 349.45C734.01 350.38 735.02 351.45 736.02 352.58C737.02 353.72 738.02 354.91 739.03 356.07C740.03 357.23 741.03 358.36 742.03 359.36C743.04 360.35 744.04 361.19 745.04 361.88C746.04 362.57 747.05 363.17 748.05 363.72C749.05 364.27 750.06 364.77 751.06 365.25C752.06 365.73 753.06 366.19 754.07 366.68C755.07 367.16 756.07 367.67 757.07 368.23C758.08 368.8 759.08 369.41 760.08 370.16C761.08 370.9 762.09 371.75 763.09 372.52C764.09 373.3 765.09 374.08 766.1 374.83C767.1 375.57 768.1 375.95 769.11 376.23C770.11 376.51 771.11 376.71 772.11 376.7C773.12 376.69 774.12 376.59 775.12 376.46C776.12 376.33 777.13 376.17 778.13 376.06C779.13 375.95 780.13 375.88 781.14 375.91C782.14 375.93 783.14 376.01 784.14 376.12C785.15 376.24 786.15 376.39 787.15 376.55C788.16 376.71 789.16 376.88 790.16 377.04C791.16 377.2 792.17 377.34 793.17 377.46C794.17 377.57 795.17 377.69 796.18 377.8C797.18 377.92 798.18 378.03 799.18 378.14C800.19 378.26 801.19 378.37 802.19 378.48C803.19 378.59 804.2 378.69 805.2 378.8" fill="none" stroke="#0000ff" stroke-width="3.3" stroke-linejoin="round"/>
<path d="M465.2 287.2C466.2 287.3 467.21 287.4 468.21 287.5C469.21 287.6 470.21 287.7 471.22 287.8C472.22 287.9 473.22 288 474.23 288.1C475.23 288.2 476.23 288.3 477.24 288.41C478.24 288.51 479.24 288.61 480.24 288.72C481.25 288.82 482.25 288.93 483.25 289.04C484.26 289.15 485.26 289.26 486.26 289.37C487.26 289.49 488.27 289.6 489.27 289.72C490.27 289.83 491.28 289.95 492.28 290.07C493.28 290.2 494.29 290.32 495.29 290.45C496.29 290.57 497.29 290.7 498.3 290.83C499.3 290.96 500.3 291.09 501.31 291.23C502.31 291.36 503.31 291.49 504.32 291.63C505.32 291.77 506.32 291.9 507.32 292.04C508.33 292.18 509.33 292.32 510.33 292.46C511.34 292.6 512.34 292.74 513.34 292.88C514.34 293.02 515.35 293.16 516.35 293.31C517.35 293.45 518.36 293.59 519.36 293.73C520.36 293.87 521.37 294.01 522.37 294.15C523.37 294.29 524.37 294.43 525.38 294.57C526.38 294.71 527.38 294.85 528.39 294.99C529.39 295.13 530.39 295.27 531.39 295.4C532.4 295.54 533.4 295.67 534.4 295.81C535.41 295.95 536.41 296.08 537.41 296.22C538.42 296.35 539.42 296.49 540.42 296.63C541.42 296.77 542.43 296.91 543.43 297.05C544.43 297.19 545.44 297.33 546.44 297.47C547.44 297.62 548.44 297.76 549.45 297.91C550.45 298.06 551.45 298.21 552.46 298.36C553.46 298.52 554.46 298.67 555.47 298.84C556.47 299 557.47 299.16 558.47 299.33C558.85 299.39 559.22 299.46 559.6 299.52M559.6 299.52C560.23 299.63 560.86 299.74 561.48 299.85C562.49 300.02 563.49 300.21 564.49 300.39C565.49 300.58 566.5 300.77 567.5 300.97C568.5 301.16 569.51 301.37 570.51 301.57C571.51 301.78 572.52 301.99 573.52 302.21C574.52 302.43 575.52 302.65 576.53 302.87C577.53 303.1 578.53 303.33 579.54 303.57C580.54 303.8 581.54 304.04 582.55 304.29C583.55 304.53 584.55 304.78 585.55 305.04C586.56 305.29 587.56 305.55 588.56 305.81C589.57 306.07 590.57 306.34 591.57 306.61C592.57 306.88 593.58 307.16 594.58 307.44C595.58 307.72 596.59 308.01 597.59 308.3C598.59 308.59 599.6 308.88 600.6 309.18C601.6 309.48 602.6 309.78 603.61 310.09C604.61 310.4 605.61 310.72 606.62 311.03C607.62 311.35 608.62 311.67 609.62 312C610.63 312.33 611.63 312.66 612.63 312.99C613.64 313.33 614.64 313.67 615.64 314.01C616.65 314.35 617.65 314.7 618.65 315.05C619.65 315.4 620.66 315.76 621.66 316.12C622.66 316.48 623.67 316.84 624.67 317.2C625.67 317.57 626.67 317.94 627.68 318.31C628.68 318.68 629.68 319.06 630.69 319.44C631.69 319.82 632.69 320.21 633.7 320.6C634.7 320.99 635.7 321.38 636.7 321.78C637.71 322.18 638.71 322.59 639.71 323C640.72 323.41 641.72 323.82 642.72 324.24C643.73 324.66 644.73 325.09 645.73 325.52C646.73 325.96 647.74 326.39 648.74 326.84C649.74 327.28 650.75 327.73 651.75 328.19C652.75 328.65 653.75 329.11 654.76 329.58C655.76 330.06 656.76 330.53 657.77 331.02C658.77 331.5 659.77 332 660.78 332.5C661.78 333 662.78 333.5 663.78 334.02C664.79 334.54 665.79 335.06 666.79 335.59C667.8 336.12 668.8 336.66 669.8 337.21C670.8 337.76 671.81 338.31 672.81 338.88C673.81 339.45 674.82 340.02 675.82 340.61C676.82 341.19 677.83 341.79 678.83 342.39C679.83 343 680.83 343.61 681.84 344.24C682.84 344.87 683.84 345.51 684.85 346.17C685.85 346.82 686.85 347.49 687.85 348.18C688.86 348.86 689.86 349.55 690.86 350.27C691.87 350.98 692.87 351.71 693.87 352.45C694.88 353.19 695.88 353.95 696.88 354.72C697.88 355.49 698.89 356.28 699.89 357.07C700.89 357.87 701.9 358.68 702.9 359.5C703.9 360.32 704.91 361.15 705.91 361.99C706.91 362.83 707.91 363.68 708.92 364.53C709.92 365.39 710.92 366.25 711.93 367.09C712.93 367.93 713.93 368.76 714.93 369.54C715.94 370.32 716.94 371.06 717.94 371.74C718.95 372.41 719.95 373.02 720.95 373.54C721.96 374.07 722.96 374.51 723.96 374.89C724.96 375.27 725.97 375.59 726.97 375.86C727.97 376.13 728.98 376.36 729.98 376.55C730.98 376.75 731.98 376.91 732.99 377.07C733.99 377.22 734.99 377.36 736 377.5C737 377.64 738 377.78 739.01 377.92C740.01 378.06 741.01 378.2 742.01 378.34C743.02 378.47 744.02 378.61 745.02 378.75C746.03 378.88 747.03 379.02 748.03 379.15C749.03 379.29 750.04 379.42 751.04 379.56C752.04 379.7 753.05 379.83 754.05 379.97C755.05 380.11 756.06 380.25 757.06 380.38C758.06 380.52 759.06 380.66 760.07 380.81C761.07 380.95 762.07 381.09 763.08 381.23C764.08 381.37 765.08 381.52 766.08 381.66C767.09 381.8 768.09 381.95 769.09 382.09C770.1 382.23 771.1 382.37 772.1 382.52C773.11 382.66 774.11 382.8 775.11 382.94C776.11 383.08 777.12 383.22 778.12 383.36C779.12 383.49 780.13 383.63 781.13 383.77C782.13 383.9 783.14 384.03 784.14 384.17C785.14 384.3 786.14 384.43 787.15 384.56C788.15 384.69 789.15 384.82 790.16 384.94C791.16 385.07 792.16 385.2 793.16 385.32C794.17 385.45 795.17 385.57 796.17 385.7C797.18 385.82 798.18 385.94 799.18 386.07C800.19 386.19 801.19 386.31 802.19 386.43C803.19 386.56 804.2 386.68 805.2 386.8" fill="none" stroke="#ff00ff" stroke-width="3.3" stroke-dasharray="10.55 9.05" stroke-linejoin="round"/>
<path d="M467.4 312.2C468.4 312.31 469.39 312.43 470.39 312.54C471.38 312.65 472.38 312.76 473.37 312.88C474.37 312.99 475.36 313.11 476.36 313.22C477.35 313.34 478.35 313.45 479.35 313.57C480.34 313.69 481.34 313.81 482.33 313.93C483.33 314.05 484.32 314.17 485.32 314.29C486.31 314.41 487.31 314.54 488.31 314.66C489.3 314.79 490.3 314.92 491.29 315.05C492.29 315.18 493.28 315.31 494.28 315.45C495.27 315.58 496.27 315.72 497.26 315.86C498.26 316 499.26 316.14 500.25 316.28C501.25 316.43 502.24 316.57 503.24 316.72C504.23 316.86 505.23 317.01 506.22 317.16C507.22 317.31 508.21 317.46 509.21 317.61C510.21 317.76 511.2 317.91 512.2 318.06C513.19 318.22 514.19 318.37 515.18 318.52C516.18 318.68 517.17 318.83 518.17 318.99C519.17 319.14 520.16 319.3 521.16 319.46C522.15 319.61 523.15 319.77 524.14 319.93C525.14 320.08 526.13 320.24 527.13 320.39C528.12 320.55 529.12 320.71 530.12 320.86C531.11 321.02 532.11 321.18 533.1 321.33C534.1 321.49 535.09 321.65 536.09 321.8C537.08 321.96 538.08 322.12 539.08 322.28C540.07 322.44 541.07 322.6 542.06 322.77C543.06 322.93 544.05 323.1 545.05 323.26C546.04 323.43 547.04 323.6 548.03 323.78C549.03 323.95 550.03 324.13 551.02 324.31C552.02 324.48 553.01 324.67 554.01 324.85C555 325.04 556 325.23 556.99 325.43C557.99 325.62 558.98 325.82 559.98 326.02C560.98 326.23 561.97 326.43 562.97 326.65C563.96 326.86 564.96 327.08 565.95 327.3C566.95 327.53 567.94 327.76 568.94 327.99C569.94 328.23 570.93 328.46 571.93 328.7C572.92 328.95 573.92 329.19 574.91 329.44C575.91 329.68 576.9 329.93 577.9 330.18C578.89 330.43 579.89 330.68 580.89 330.93C581.88 331.18 582.88 331.43 583.87 331.68C584.87 331.93 585.86 332.17 586.86 332.42C587.85 332.67 588.85 332.91 589.84 333.15C590.84 333.39 591.84 333.63 592.83 333.86C593.83 334.09 594.82 334.32 595.82 334.56C596.81 334.79 597.81 335.03 598.8 335.29C599.8 335.55 600.8 335.82 601.79 336.11C602.79 336.41 603.78 336.72 604.78 337.04C605.77 337.37 606.77 337.71 607.76 338.06C608.76 338.42 609.75 338.78 610.75 339.16C611.75 339.54 612.74 339.93 613.74 340.33C614.73 340.72 615.73 341.13 616.72 341.54C617.72 341.95 618.71 342.37 619.71 342.79C620.7 343.22 621.7 343.64 622.7 344.07C623.69 344.5 624.69 344.92 625.68 345.35C626.68 345.78 627.67 346.21 628.67 346.64C629.66 347.07 630.66 347.51 631.66 347.94C632.65 348.37 633.65 348.81 634.64 349.25C635.64 349.69 636.63 350.13 637.63 350.58C638.62 351.03 639.62 351.48 640.61 351.93C641.61 352.39 642.61 352.85 643.6 353.31C644.6 353.78 645.59 354.25 646.59 354.72C647.58 355.2 648.58 355.68 649.57 356.17C650.57 356.66 651.56 357.15 652.56 357.66C653.56 358.16 654.55 358.67 655.55 359.19C656.54 359.71 657.54 360.24 658.53 360.78C659.53 361.31 660.52 361.86 661.52 362.42C662.52 362.97 663.51 363.54 664.51 364.12C665.5 364.7 666.5 365.29 667.49 365.88C668.49 366.47 669.48 367.07 670.48 367.66C671.47 368.24 672.47 368.82 673.47 369.38C674.46 369.94 675.46 370.47 676.45 370.98C677.45 371.49 678.44 371.96 679.44 372.4C680.43 372.83 681.43 373.23 682.42 373.59C683.42 373.95 684.42 374.27 685.41 374.57C686.41 374.87 687.4 375.14 688.4 375.4C689.39 375.66 690.39 375.9 691.38 376.13C692.38 376.36 693.38 376.58 694.37 376.8C695.37 377.02 696.36 377.23 697.36 377.43C698.35 377.64 699.35 377.84 700.34 378.03C701.34 378.23 702.33 378.43 703.33 378.62C704.33 378.82 705.32 379.01 706.32 379.21C707.31 379.4 708.31 379.6 709.3 379.8C710.3 380 711.29 380.2 712.29 380.41C713.29 380.61 714.28 380.82 715.28 381.03C716.27 381.24 717.27 381.46 718.26 381.67C719.26 381.89 720.25 382.11 721.25 382.33C722.24 382.55 723.24 382.77 724.24 382.99C725.23 383.22 726.23 383.44 727.22 383.67C728.22 383.9 729.21 384.13 730.21 384.36C731.2 384.59 732.2 384.81 733.19 385.04C734.19 385.27 735.19 385.49 736.18 385.71C737.18 385.94 738.17 386.15 739.17 386.37C740.16 386.58 741.16 386.79 742.15 387C743.15 387.2 744.15 387.4 745.14 387.59C746.14 387.78 747.13 387.97 748.13 388.15C749.12 388.33 750.12 388.51 751.11 388.68C752.11 388.86 753.1 389.03 754.1 389.2" fill="none" stroke="#000000" stroke-width="3.3" stroke-dasharray="4.7248 2.8349" stroke-linejoin="round"/>
<text transform="translate(101.5 394.72) rotate(0.03) scale(1 1.05)" font-size="16.6" text-anchor="end">0.38</text>
<text transform="translate(101.5 367.72) rotate(0.03) scale(1 1.05)" font-size="16.6" text-anchor="end">0.40</text>
<text transform="translate(101.5 340.73) rotate(0.03) scale(1 1.05)" font-size="16.6" text-anchor="end">0.42</text>
<text transform="translate(101.5 313.73) rotate(0.03) scale(1 1.05)" font-size="16.6" text-anchor="end">0.44</text>
<text transform="translate(101.5 286.73) rotate(0.03) scale(1 1.05)" font-size="16.6" text-anchor="end">0.46</text>
<text transform="translate(101.5 259.73) rotate(0.03) scale(1 1.05)" font-size="16.6" text-anchor="end">0.48</text>
<text transform="translate(101.5 232.74) rotate(0.03) scale(1 1.05)" font-size="16.6" text-anchor="end">0.50</text>
<text transform="translate(101.5 205.74) rotate(0.03) scale(1 1.05)" font-size="16.6" text-anchor="end">0.52</text>
<text transform="translate(101.5 178.74) rotate(0.03) scale(1 1.05)" font-size="16.6" text-anchor="end">0.54</text>
<text transform="translate(101.5 151.74) rotate(0.03) scale(1 1.05)" font-size="16.6" text-anchor="end">0.56</text>
<text transform="translate(101.5 124.74) rotate(0.03) scale(1 1.05)" font-size="16.6" text-anchor="end">0.58</text>
<text transform="translate(101.5 97.75) rotate(0.03) scale(1 1.05)" font-size="16.6" text-anchor="end">0.60</text>
<text transform="translate(101.5 70.75) rotate(0.03) scale(1 1.05)" font-size="16.6" text-anchor="end">0.62</text>
<text transform="translate(168.75 414.65) rotate(0.03) scale(0.975 1.045)" font-size="16.6">10</text><text transform="translate(184.15 408.5) rotate(0.03)" font-size="13.5">-2</text>
<text transform="translate(420.2 414.65) rotate(0.03) scale(0.975 1.045)" font-size="16.6">10</text><text transform="translate(435.6 408.5) rotate(0.03)" font-size="13.5">-1</text>
<text transform="translate(529.36 414.65) rotate(0.03) scale(0.975 1.045)" font-size="16.6">10</text><text transform="translate(544.76 408.5) rotate(0.03)" font-size="13.5">-2</text>
<text transform="translate(790.6 414.65) rotate(0.03) scale(0.975 1.045)" font-size="16.6">10</text><text transform="translate(806 408.5) rotate(0.03)" font-size="13.5">-1</text>
<text transform="translate(226 437) rotate(0.03) scale(0.95 0.74)" font-size="24" class="g">|</text>
<text transform="translate(231.9 440.7) rotate(0.03) scale(0.97 1)" font-size="27.2" class="g">ε</text>
<text transform="translate(244.2 445.7) rotate(0.03)" font-size="20.7">e</text>
<text transform="translate(252.5 446) rotate(0.03) scale(1.25 1)" font-size="19" class="g">μ</text>
<text transform="translate(264.55 437) rotate(0.03) scale(1 0.74)" font-size="24" class="g">|</text>
<text transform="translate(276.4 440.6) rotate(0.03)" font-size="24.4">(true)</text>
<text transform="translate(590.85 437) rotate(0.03) scale(0.95 0.74)" font-size="24" class="g">|</text>
<text transform="translate(596.75 440.7) rotate(0.03) scale(0.97 1)" font-size="27.2" class="g">ε</text>
<text transform="translate(609.05 445.7) rotate(0.03)" font-size="20.7">e</text>
<text transform="translate(618.4 445.5) rotate(0.03) scale(1.2 0.87)" font-size="23" class="g">τ</text>
<text transform="translate(628.55 437) rotate(0.03) scale(1 0.74)" font-size="24" class="g">|</text>
<text transform="translate(640.4 440.6) rotate(0.03)" font-size="24.4">(true)</text>
<text transform="translate(50.9 294.8) rotate(-89.97)" font-size="24.4">sin</text>
<text transform="translate(41.8 267.2) rotate(-89.97)" font-size="20.7">2</text>
<text transform="translate(50.9 251.4) rotate(-89.97) scale(1.05 1)" font-size="26" class="g">θ</text>
<text transform="translate(56.2 238) rotate(-89.97)" font-size="20.7">23</text>
<text transform="translate(50.9 210.9) rotate(-89.97)" font-size="24.4">(true)</text>
<path d="M690.05 102.3H720.2" stroke="#0000ff" stroke-width="3.3" fill="none"/>
<path d="M690.05 124.15H720.2" stroke="#ff00ff" stroke-width="3.3" fill="none" stroke-dasharray="10.9 8.8"/>
<path d="M690.2 145.9H720.2" stroke="#000000" stroke-width="3.3" fill="none" stroke-dasharray="4.75 2.85"/>
<text transform="translate(736.6 107.6) rotate(0.03) scale(1.03 1.04)" font-size="16.6">2</text>
<text transform="translate(748.5 107.8) rotate(0.03)" font-size="17.2" class="g">σ</text>
<text transform="translate(736.6 129.55) rotate(0.03) scale(1.03 1.04)" font-size="16.6">3</text>
<text transform="translate(748.5 129.75) rotate(0.03)" font-size="17.2" class="g">σ</text>
<text transform="translate(736.6 151.5) rotate(0.03) scale(1.03 1.04)" font-size="16.6">4</text>
<text transform="translate(748.5 151.7) rotate(0.03)" font-size="17.2" class="g">σ</text>
</svg>
</body></html>
